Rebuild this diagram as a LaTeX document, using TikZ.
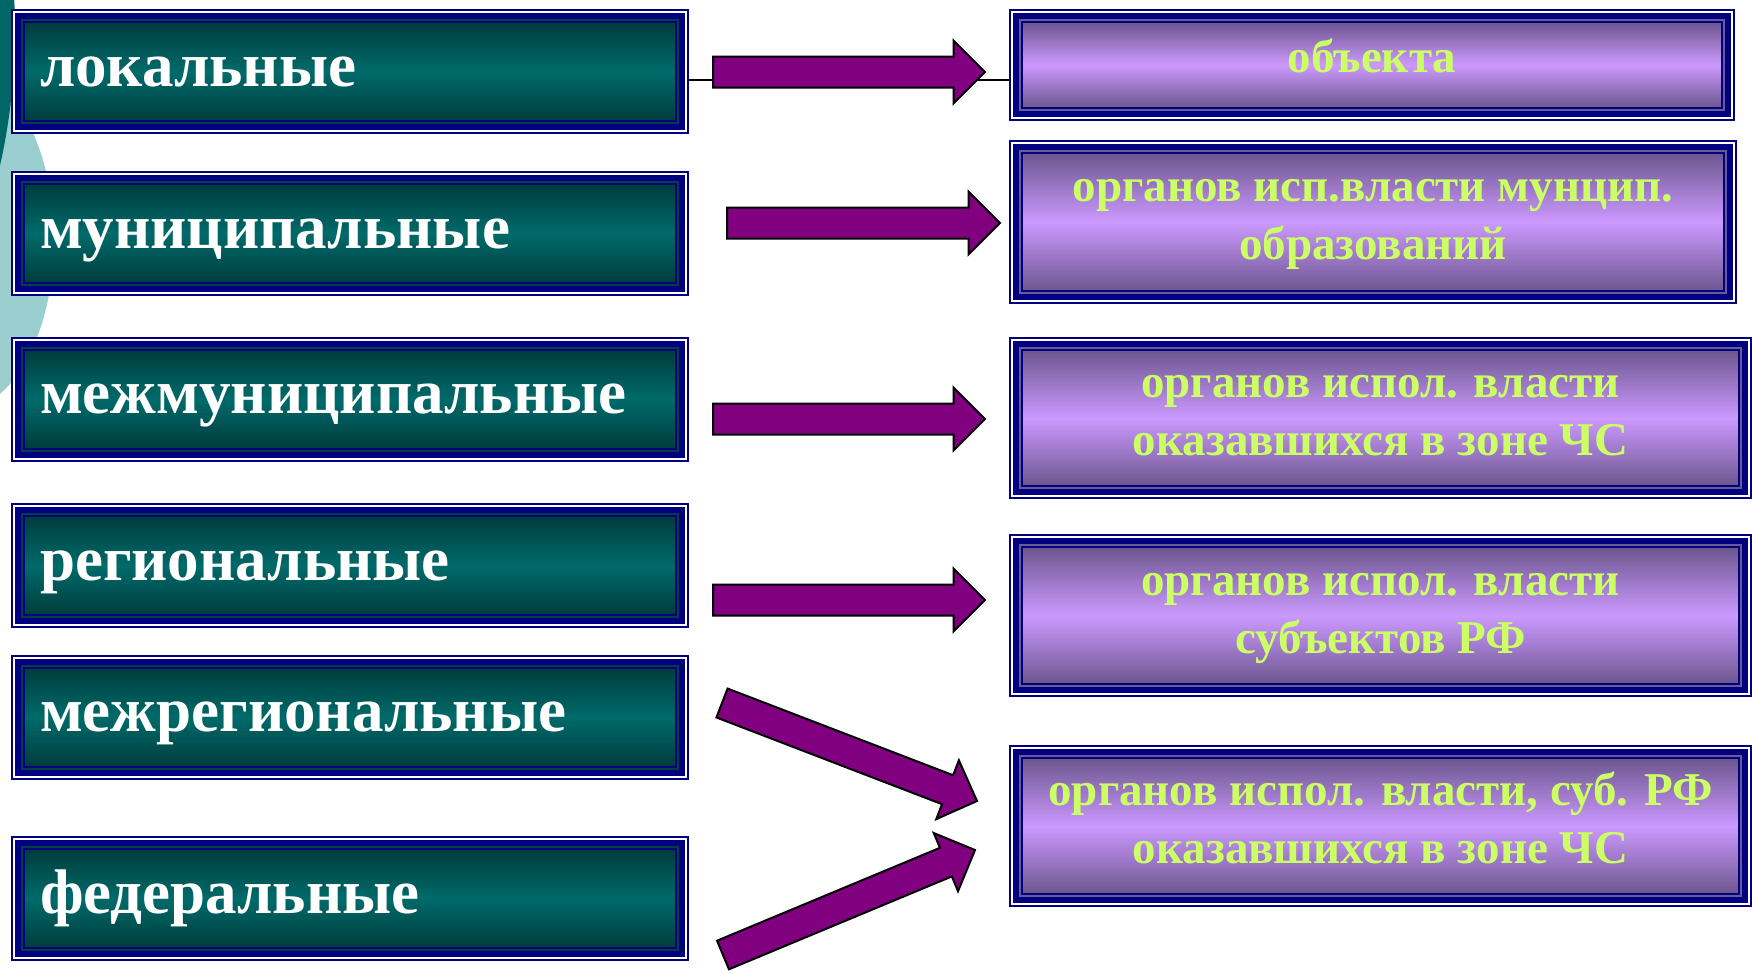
\documentclass[tikz,border=0pt]{standalone}
\usepackage{fontspec}
\setmainfont{Liberation Serif}
\usetikzlibrary{shapes.arrows,calc}

\definecolor{navyblue}{RGB}{0,0,128}
\definecolor{tealdark}{RGB}{0,60,60}
\definecolor{tealmid}{RGB}{0,106,106}
\definecolor{bandteal}{RGB}{0,64,64}
\definecolor{purpletop}{RGB}{108,86,142}
\definecolor{purplemid}{RGB}{204,153,255}
\definecolor{bandpurple}{RGB}{104,92,150}
\definecolor{arrowpurple}{RGB}{128,0,128}
\definecolor{textgreen}{RGB}{204,255,102}
\definecolor{lightteal}{RGB}{155,206,206}
\definecolor{darkteal}{RGB}{0,102,102}

\newcommand{\levelfont}{\fontsize{31.5}{36}\selectfont\bfseries}
\newcommand{\organfont}{\fontsize{23.5}{29}\selectfont\bfseries}

\tikzset{
  framed/.style={draw=navyblue, line width=1pt, inner sep=0pt, outer sep=0pt,
    preaction={draw=navyblue, line width=13pt},
    preaction={draw=white, line width=11pt},
    preaction={draw=navyblue, line width=9pt},
    preaction={draw=#1, line width=3pt}},
  levelbox/.style={framed=bandteal, top color=tealdark, bottom color=tealdark,
    middle color=tealmid, text=white, font=\levelfont,
    minimum width=326pt, minimum height=49.5pt, text width=310pt,
    inner xsep=8pt, align=left, text height=14.5pt, text depth=0pt},
  organbox/.style={framed=bandpurple, top color=purpletop, bottom color=purpletop,
    middle color=purplemid, text=textgreen, font=\organfont, align=center,
    text height=39.8pt, text depth=2pt},
  bigarrow/.style={single arrow, draw=black, line width=1pt, fill=arrowpurple,
    inner sep=0pt, outer sep=0pt, text height=7.25pt, text depth=7.25pt,
    single arrow head extend=8pt},
  thinline/.style={draw=black, line width=1pt}
}

\newcommand{\blockarrow}[2]{%
  \path let \p1=($(#2)-(#1)$), \n1={atan2(\y1,\x1)}, \n2={veclen(\x1,\y1)} in
    node[bigarrow, anchor=tail, rotate=\n1, minimum height=\n2] at (#1) {};}

\begin{document}
\begin{tikzpicture}[x=0.5pt, y=-0.5pt]
  \useasboundingbox (0,0) rectangle (1752,970);
  \clip (0,0) rectangle (1752,970);

  \fill[lightteal] (-40,240) ellipse [x radius=94, y radius=170];
  \fill[darkteal] (-600,30) circle [radius=615];

  \node[levelbox] (lokal) at (350,71.5) {локальные};
  \node[levelbox] (munic) at (350,233.5) {муниципальные};
  \node[levelbox] (mezhmunic) at (350,399) {межмуниципальные};
  \node[levelbox] (region) at (350,565.5) {региональные};
  \node[levelbox] (mezhregion) at (350,717) {межрегиональные};
  \node[levelbox] (feder) at (350,898.5) {федеральные};

  \node[organbox, minimum width=350pt, minimum height=43pt, text height=10.8pt, text depth=3pt]
    (obekt) at (1372,65) {объекта};
  \node[organbox, minimum width=351pt, minimum height=69pt]
    (organmunic) at (1373,222) {органов исп.власти мунцип.\\образований};
  \node[organbox, minimum width=358.5pt, minimum height=68pt]
    (organzona) at (1380.5,418) {органов испол. власти\\оказавшихся в зоне ЧС};
  \node[organbox, minimum width=358.5pt, minimum height=68.5pt]
    (organsubj) at (1380.5,615.5) {органов испол. власти\\субъектов РФ};
  \node[organbox, minimum width=358.5pt, minimum height=68pt]
    (organsubjzona) at (1380.5,826) {органов испол. власти, суб. РФ\\оказавшихся в зоне ЧС};

  \draw[thinline] ([xshift=6.5pt, yshift=-4.25pt]lokal.east) coordinate (line1)
    -- ([xshift=-6.5pt]line1 -| obekt.west);

  \coordinate (a1s) at (713,72);  \coordinate (a1e) at (985,72);
  \coordinate (a2s) at (727,223); \coordinate (a2e) at (1000,223);
  \coordinate (a3s) at (713,419); \coordinate (a3e) at (985,419);
  \coordinate (a4s) at (713,600); \coordinate (a4e) at (985,600);
  \coordinate (a5s) at (722,703); \coordinate (a5e) at (977,801);
  \coordinate (a6s) at (723,955); \coordinate (a6e) at (975,850);

  \blockarrow{a1s}{a1e}
  \blockarrow{a2s}{a2e}
  \blockarrow{a3s}{a3e}
  \blockarrow{a4s}{a4e}
  \blockarrow{a5s}{a5e}
  \blockarrow{a6s}{a6e}
\end{tikzpicture}
\end{document}
